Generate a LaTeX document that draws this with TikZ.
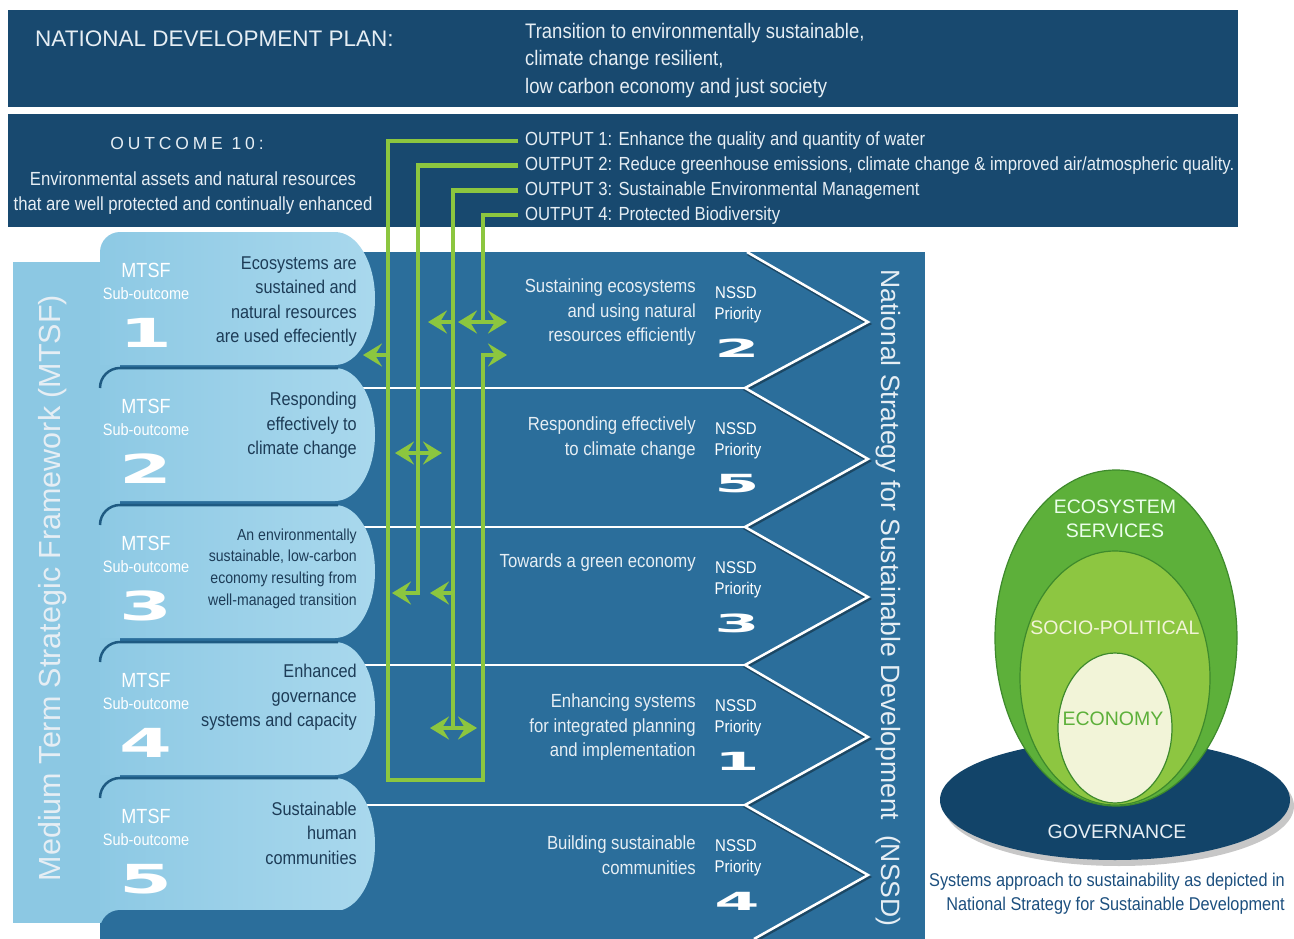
\documentclass[tikz,border=0pt]{standalone}
\usepackage{fontspec}
\setmainfont{Liberation Sans}
\newfontfamily\narrowfont{Liberation Sans}[FakeStretch=0.88]
\newfontfamily\numfont{DejaVu Sans}
\usetikzlibrary{positioning,arrows.meta}

\definecolor{navy}{HTML}{18496F}
\definecolor{panelblue}{HTML}{2B6E9B}
\definecolor{pillblue}{HTML}{8DC9E4}
\definecolor{pilllight}{HTML}{A9D8ED}
\definecolor{colblue}{HTML}{8CC8E3}
\definecolor{pilledgecol}{HTML}{1E5A82}
\definecolor{linkgreen}{HTML}{8CC63F}
\definecolor{pilltextcol}{HTML}{1D3C57}
\definecolor{paletext}{HTML}{E6EEF4}
\definecolor{ecogreen}{HTML}{5DB03A}
\definecolor{sociogreen}{HTML}{8DC641}
\definecolor{econcream}{HTML}{F2F4D8}
\definecolor{ecoedge}{HTML}{3E8A2C}
\definecolor{govnavy}{HTML}{124469}
\definecolor{captionblue}{HTML}{1C4F7E}

\newcommand{\fsize}[2]{\fontsize{#1}{#2}\selectfont}

\tikzset{
  bantext/.style={text=paletext, inner sep=0pt},
  pilltext/.style={text=pilltextcol, inner sep=0pt, align=right, anchor=east},
  mtsflabel/.style={text=white, inner sep=0pt, font=\narrowfont\fsize{20.5}{24}},
  sublabel/.style={text=white, inner sep=0pt, font=\narrowfont\fsize{16.5}{20}},
  pillnum/.style={text=white, inner sep=0pt, font=\numfont\bfseries\fsize{40}{40}},
  rowtext/.style={text=paletext, inner sep=0pt, align=right, anchor=east,
    font=\narrowfont\fsize{19}{24.5}},
  nssdlabel/.style={text=white, inner sep=0pt, font=\narrowfont\fsize{17}{20}},
  rownum/.style={text=white, inner sep=0pt, font=\numfont\bfseries\fsize{25}{25}},
  sepline/.style={draw=white, line width=2.5pt},
  sepshadow/.style={draw=black, opacity=0.35, line width=3pt},
  pilledge/.style={draw=pilledgecol, line width=2.5pt},
  link/.style={draw=linkgreen, line width=4.5pt},
  gtip/.tip={Stealth[length=19pt,width=23pt,inset=7pt]},
  ringtext/.style={inner sep=0pt, align=center, font=\fsize{19.5}{24}},
}

\begin{document}
\begin{tikzpicture}[x=1pt,y=-1pt]
\useasboundingbox (0,0) rectangle (1294,939);

% banners
\fill[navy] (8,10) rectangle (1238,107);
\fill[navy] (8,114) rectangle (1238,227);

\node[bantext, anchor=west, font=\fsize{22.5}{27}] (ndp) at (35,39) {NATIONAL DEVELOPMENT PLAN:};
\node[bantext, anchor=west, align=left, font=\narrowfont\fsize{21}{27.5}] (ndpgoal) at (525,60.5)
  {Transition to environmentally sustainable,\\climate change resilient,\\low carbon economy and just society};

\node[bantext, font=\fsize{17.5}{20}\addfontfeature{LetterSpace=22}] (outcome) at (187,143) {OUTCOME 10:};
\node[bantext, align=center, font=\narrowfont\fsize{19}{24.5}] (outcometxt) at (193,193)
  {Environmental assets and natural resources\\that are well protected and continually enhanced};

\foreach \txt [count=\n] in {{Enhance the quality and quantity of water},
    {Reduce greenhouse emissions, climate change \& improved air/atmospheric quality.},
    {Sustainable Environmental Management},
    {Protected Biodiversity}}
  \node[bantext, anchor=west, outer xsep=7pt, font=\narrowfont\fsize{19}{24}] (out\n) at (518,116.3+24.7*\n) {OUTPUT \n: \txt};

% main panel
\fill[panelblue] (100,252) rectangle (925,939);

% rows and chevrons
\foreach \sy in {388,527,665,805}
  \draw[sepline] (340,\sy) -- (745,\sy);
\draw[sepshadow] (748,254) -- (869,324) -- (746,390) -- (869,461) -- (746,529) -- (869,599) -- (746,667) -- (869,739) -- (746,807) -- (869,877) -- (755,941);
\draw[sepline] (747,252) -- (868,322) -- (745,388) -- (868,459) -- (745,527) -- (868,597) -- (745,665) -- (868,737) -- (745,805) -- (868,875) -- (754,939);

\node[rotate=-90, text=paletext, inner sep=0pt, font=\fsize{26.5}{30}] (nssdtitle) at (888,598)
  {National Strategy for Sustainable Development\ \ (NSSD)};

\foreach \ry/\ty/\prio/\txt [count=\n] in {252/312.5/2/{Sustaining ecosystems\\and using natural\\resources efficiently},
    388/438/5/{Responding effectively\\to climate change},
    527/563/3/{Towards a green economy},
    665/727.5/1/{Enhancing systems\\for integrated planning\\and implementation},
    805/855/4/{Building sustainable\\communities}} {
  \node[rowtext] (prio\n) at (696,\ty) {\txt};
  \node[nssdlabel] (nssd\n) at (736,\ry+41) {NSSD};
  \node[nssdlabel] (prlab\n) at (738,\ry+63) {Priority};
  \node[rownum] (rnum\n) at (737,\ry+96) {\scalebox{2.6}[1]{\prio}};
}

% MTSF column and pills
\fill[colblue] (13,262) rectangle (120,923);
\node[rotate=90, text=paletext, inner sep=0pt, font=\fsize{30.5}{34}] (mtsf) at (53,588)
  {Medium Term Strategic Framework (MTSF)};

\foreach \top [count=\n] in {232,368,505,642,778} {
  \shade[left color=pillblue, right color=pilllight] (100,\top+133) -- (100,\top+20)
    arc[start angle=180, end angle=270, radius=20] -- (335,\top)
    arc[start angle=-90, end angle=90, x radius=40, y radius=66.5] -- cycle;
  \ifnum\n>1
    \draw[pilledge] (100,\top+20) arc[start angle=180, end angle=270, radius=20] -- (338,\top);
  \fi
  \node[mtsflabel] (mtsf\n) at (146,\top+38) {MTSF};
  \node[sublabel] (sub\n) at (146,\top+62) {Sub-outcome};
  \node[pillnum] (pnum\n) at (146,\top+101) {\scalebox{1.9}[1]{\n}};
}
\fill[panelblue] (100,939) -- (100,930) arc[start angle=180, end angle=270, radius=20] -- (400,910) -- (400,939) -- cycle;

\foreach \ty/\fs/\bs/\txt [count=\n] in {301.5/18.5/24.5/{Ecosystems are\\sustained and\\natural resources\\are used effeciently},
    425.5/18.5/24.5/{Responding\\effectively to\\climate change},
    568.5/16/21.7/{An environmentally\\sustainable, low-carbon\\economy resulting from\\well-managed transition},
    697.5/18.5/24.5/{Enhanced\\governance\\systems and capacity},
    833/18.5/24.5/{Sustainable\\human\\communities}}
  \node[pilltext, font=\narrowfont\fsize{\fs}{\bs}] (aim\n) at (357,\ty) {\txt};

% green links from the outputs
\coordinate (loopL) at (388,780);
\coordinate (loopR) at (483,355);
\coordinate (w1tip) at (507,355);
\coordinate (w1j) at (388,355);
\coordinate (w1left) at (363,355);
\coordinate (w2end) at (418,593);
\coordinate (w2tip) at (392,593);
\coordinate (w2a) at (395,453);
\coordinate (w2b) at (442,453);
\coordinate (w3end) at (453,728);
\coordinate (w3a) at (430,728);
\coordinate (w3b) at (477,728);
\coordinate (w3j1) at (453,322);
\coordinate (w3t1) at (428,322);
\coordinate (w3j2) at (453,593);
\coordinate (w3t2) at (430,593);
\coordinate (w4end) at (483,322);
\coordinate (w4a) at (458,322);
\coordinate (w4b) at (507,322);

\draw[link, -gtip] (out1.west) -| (loopL) -| (loopR) -- (w1tip);
\draw[link, -gtip] (w1j) -- (w1left);
\draw[link, -gtip] (out2.west) -| (w2end) -- (w2tip);
\draw[link, gtip-gtip] (w2a) -- (w2b);
\draw[link] (out3.west) -| (w3end);
\draw[link, gtip-gtip] (w3a) -- (w3b);
\draw[link, -gtip] (w3j1) -- (w3t1);
\draw[link, -gtip] (w3j2) -- (w3t2);
\draw[link] (out4.west) -| (w4end);
\draw[link, gtip-gtip] (w4a) -- (w4b);

% systems approach rings
\fill[black, opacity=0.22] (1119,806) ellipse[x radius=175, y radius=60];
\fill[govnavy] (1115,800) ellipse[x radius=175, y radius=60];
\filldraw[fill=ecogreen, draw=ecoedge, line width=1.2pt] (1116,638) ellipse[x radius=121, y radius=168];
\filldraw[fill=sociogreen, draw=ecoedge, line width=1.2pt] (1115,678) ellipse[x radius=95, y radius=127];
\filldraw[fill=econcream, draw=ecoedge, line width=1.2pt] (1115,728) ellipse[x radius=57, y radius=75];

\node[ringtext, text=green!8!white] (eco) at (1115,519) {ECOSYSTEM\\SERVICES};
\node[ringtext, text=econcream] (socio) at (1115,628) {SOCIO-POLITICAL};
\node[ringtext, text=ecogreen] (econ) at (1113,719) {ECONOMY};
\node[ringtext, text=paletext] (gov) at (1117,832) {GOVERNANCE};
\node[inner sep=0pt, anchor=east, align=right, text=captionblue, font=\narrowfont\fsize{18.5}{24}] (caption) at (1285,894)
  {Systems approach to sustainability as depicted in\\National Strategy for Sustainable Development};
\end{tikzpicture}
\end{document}
